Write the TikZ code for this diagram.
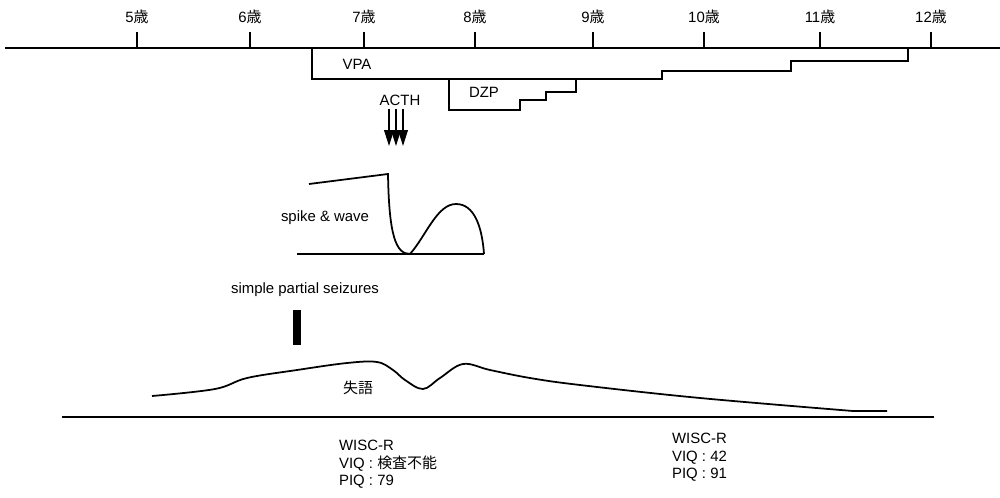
\documentclass[tikz,border=0pt]{standalone}
\usepackage{fontspec}
\setmainfont{Liberation Sans}
\newfontfamily\jpfont{Noto Sans CJK JP}
\usetikzlibrary{arrows.meta}
\newcommand\sai{{\jpfont 歳}}
\tikzset{
  lbl/.style={font=\fontsize{8.5}{10}\selectfont,inner sep=1pt},
  thick line/.style={line width=1pt},
}
\begin{document}
\begin{tikzpicture}[x=0.02cm,y=-0.02cm,line join=miter]
  \useasboundingbox (0,0) rectangle (1000,497);
  % time axis with ages
  \coordinate (axL) at (5,48);
  \coordinate (axR) at (1000,48);
  \draw[thick line] (axL) -- (axR);
  \foreach \x/\n in {137/5,250/6,364/7,475/8,593/9,704/10,820/11,931/12}{
    \coordinate (t\n) at (\x,48);
    \draw[thick line] (t\n) -- ++(0,-16) node[lbl,above=3pt] {\n\sai};
  }
  % drugs
  \draw[thick line] (312,48) |- (662,79) |- (791,71) |- (908,61) -- (908,48);
  \node[lbl] (vpa) at (357,64) {VPA};
  \draw[thick line] (449,79) |- (520,110) |- (546,100) |- (576,92) -- (576,79);
  \node[lbl] (dzp) at (484,92) {DZP};
  \node[lbl] (acth) at (400,100) {ACTH};
  \foreach \i/\x in {1/389,2/396,3/403}{
    \coordinate (a\i) at (\x,109);
    \coordinate (b\i) at (\x,146);
    \draw[line width=0.8pt,-{Triangle[length=9pt,width=5.5pt]}] (a\i) -- (b\i);
  }
  % EEG
  \coordinate (sw1) at (297,254);
  \coordinate (sw2) at (484,254);
  \draw[thick line] (sw1) -- (sw2);
  \draw[thick line] (309,184) -- (388,174)
    .. controls (389,236) and (396,254) .. (410,254)
    .. controls (426,236) and (437,204) .. (456,204)
    .. controls (474,204) and (482,226) .. (484,254);
  \node[lbl] (sw) at (325,218) {spike \& wave};
  % seizures
  \node[lbl] (sps) at (305,290) {simple partial seizures};
  \fill (293,310) rectangle (301,345);
  % aphasia
  \coordinate (bl1) at (62,417);
  \coordinate (bl2) at (934,417);
  \draw[thick line] (bl1) -- (bl2);
  \draw[thick line] plot[smooth,tension=0.6] coordinates {
    (152,396) (215,389) (247,378) (297,370) (347,363) (377,362) (393,370)
    (405,380) (423,389) (440,378) (463,364) (490,370) (530,378) (580,385)
    (700,398) (853,411)} -- (887,411);
  \node[lbl] (aph) at (358,388) {\jpfont 失語};
  % tests
  \node[lbl,align=left,anchor=north west] (w1) at (337,438)
    {WISC-R\\VIQ : {\jpfont 検査不能}\\PIQ : 79};
  \node[lbl,align=left,anchor=north west] (w2) at (670,431)
    {WISC-R\\VIQ : 42\\PIQ : 91};
\end{tikzpicture}
\end{document}
